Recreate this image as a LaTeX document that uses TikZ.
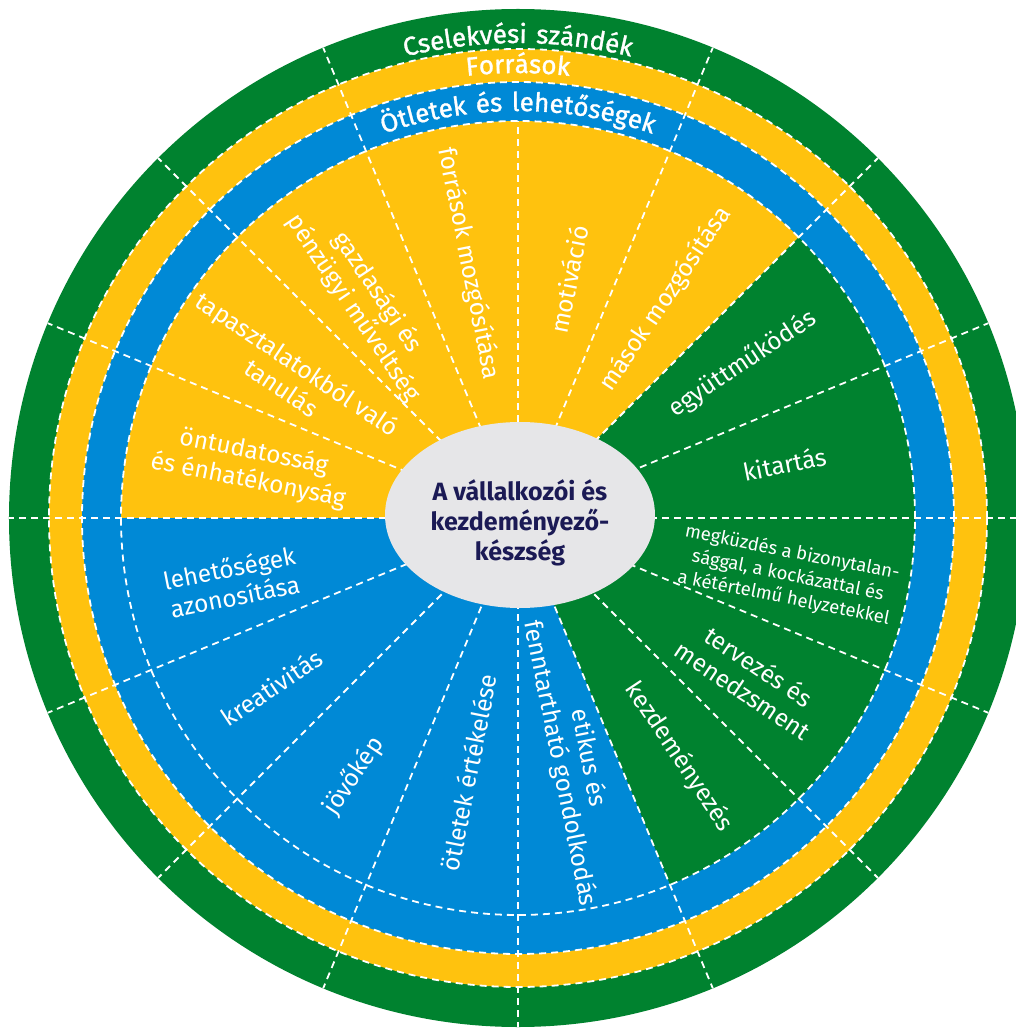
\documentclass[tikz,border=0pt]{standalone}
\usepackage{fontspec}
\setmainfont{Fira Sans}
\newfontfamily\ringfont[LetterSpace=9,FakeBold=1.2]{Fira Sans}
\usepackage{tikz}
\usetikzlibrary{decorations.text,shapes.geometric}
\definecolor{wheelgreen}{HTML}{00822F}
\definecolor{wheelyellow}{HTML}{FFC20E}
\definecolor{wheelblue}{HTML}{0089D6}
\definecolor{ovalgray}{HTML}{E6E6E8}
\definecolor{navytext}{HTML}{1B1A55}
\tikzset{
    %Define style for the dashed seams
    seam/.style={
           draw=white,
           line width=1.8pt,
           dash pattern=on 7pt off 5pt},
    %Define style for the wedge labels
    wedgelabel/.style={
           text=white,
           font=\fontsize{24.5}{29}\selectfont,
           align=center,
           inner sep=0pt},
    smalllabel/.style={
           wedgelabel,
           font=\fontsize{18.5}{23}\selectfont},
    %Define style for the oval in the middle
    coreoval/.style={
           ellipse,
           fill=ovalgray,
           minimum width=270pt,
           minimum height=186pt,
           inner sep=0pt},
    corelabel/.style={
           text=navytext,
           font=\bfseries\fontsize{25}{30}\selectfont,
           align=center,
           inner sep=0pt},
    % Define style for the curved ring titles
    ringlabel/.style={
           decorate,
           decoration={text along path,
                       text align=center,
                       text color=white,
                       text={|\ringfont\fontsize{26}{30}\selectfont|#1}}}
}
\begin{document}
\begin{tikzpicture}
\fill[white] (-518pt,-510pt) rectangle (498pt,518pt);
\useasboundingbox (-518pt,-510pt) rectangle (498pt,518pt);
% rings
\fill[wheelgreen] (0,0) circle (509pt);
\fill[wheelyellow] (0,0) circle (469pt);
\fill[wheelblue] (0,0) circle (436pt);
% wedges
\fill[wheelyellow] (0,0) -- (45:397pt) arc[start angle=45, end angle=180, radius=397pt] -- cycle;
\fill[wheelgreen] (0,0) -- (-67.5:397pt) arc[start angle=-67.5, end angle=45, radius=397pt] -- cycle;
\fill[wheelblue] (0,0) -- (180:397pt) arc[start angle=180, end angle=292.5, radius=397pt] -- cycle;
% dashed seams
\draw[seam] (0,0) circle (397pt);
\draw[seam] (0,0) circle (436pt);
\draw[seam] (0,0) circle (469pt);
\draw[seam] (0,0) -- (0:509pt);
\draw[seam] (0,0) -- (22.5:509pt);
\draw[seam] (0,0) -- (45:509pt);
\draw[seam] (0,0) -- (67.5:509pt);
\draw[seam] (0,0) -- (90:397pt);
\draw[seam] (0,0) -- (112.5:509pt);
\draw[seam] (0,0) -- (135:509pt);
\draw[seam] (0,0) -- (157.5:509pt);
\draw[seam] (0,0) -- (180:509pt);
\draw[seam] (0,0) -- (202.5:509pt);
\draw[seam] (0,0) -- (225:509pt);
\draw[seam] (0,0) -- (247.5:509pt);
\draw[seam] (0,0) -- (270:509pt);
\draw[seam] (0,0) -- (292.5:509pt);
\draw[seam] (0,0) -- (315:509pt);
\draw[seam] (0,0) -- (337.5:509pt);
% ring titles
\path[ringlabel={Cselekvési szándék}] (140:475pt) arc[start angle=140, end angle=40, radius=475pt];
\path[ringlabel={Források}] (140:445pt) arc[start angle=140, end angle=40, radius=445pt];
\path[ringlabel={Ötletek és lehetőségek}] (140:407pt) arc[start angle=140, end angle=40, radius=407pt];
% centre
\node[coreoval] (core) at (2pt,3pt) {};
\node[corelabel] (coretext) at ([yshift=-8pt]core.center) {A vállalkozói és\\kezdeményező-\\készség};
% wedge labels
\node[wedgelabel, rotate=-11.25] (ontudat) at (169:272pt) {öntudatosság\\és énhatékonyság};
\node[wedgelabel, rotate=-33.75] (tapaszt) at (148:269pt) {tapasztalatokból való\\tanulás};
\node[wedgelabel, rotate=-56.25] (gazd) at (125:266pt) {gazdasági és\\pénzügyi műveltség};
\node[wedgelabel, rotate=-78.75] (forrmoz) at (101:259pt) {források mozgósítása};
\node[wedgelabel, rotate=78.75] (motiv) at (78:244pt) {motiváció};
\node[wedgelabel, rotate=56.25] (masok) at (56:264pt) {mások mozgósítása};
\node[wedgelabel, rotate=33.75] (egyutt) at (34.5:272pt) {együttműködés};
\node[wedgelabel, rotate=11.25] (kitart) at (11.5:272pt) {kitartás};
\node[smalllabel, rotate=-11.25] (megkuzd) at (-12:276pt) {megküzdés a bizonytalan-\\sággal, a kockázattal és\\a kétértelmű helyzetekkel};
\node[wedgelabel, rotate=-33.75] (tervez) at (-34.5:283pt) {tervezés és\\menedzsment};
\node[wedgelabel, rotate=-56.25] (kezdem) at (-56:288pt) {kezdeményezés};
\node[wedgelabel, rotate=11.25] (lehet) at (192.5:293pt) {lehetőségek\\azonosítása};
\node[wedgelabel, rotate=33.75] (kreat) at (214.5:299pt) {kreativitás};
\node[wedgelabel, rotate=56.25] (jovo) at (237.5:306pt) {jövőkép};
\node[wedgelabel, rotate=78.75] (otlet) at (259:259pt) {ötletek értékelése};
\node[wedgelabel, rotate=-78.75] (etikus) at (283:249pt) {etikus és\\fenntartható gondolkodás};
\end{tikzpicture}
\end{document}
